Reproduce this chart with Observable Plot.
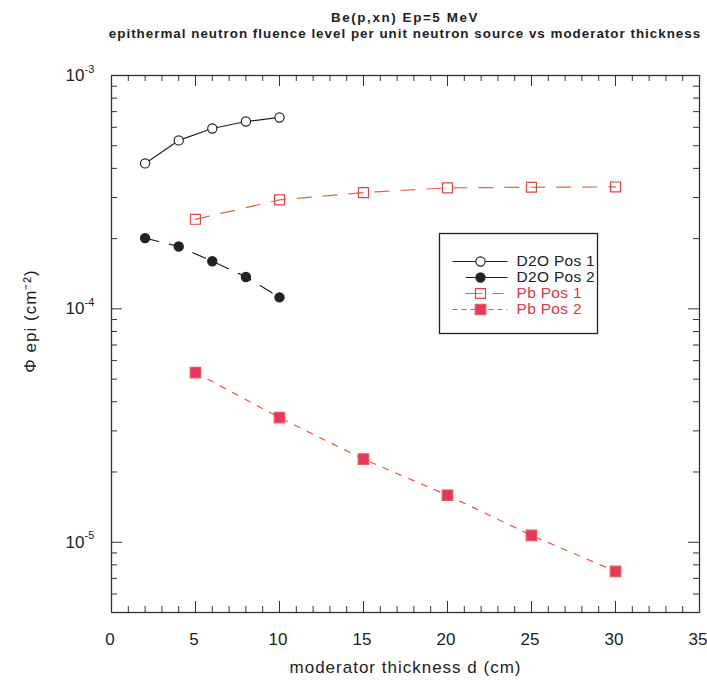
<!DOCTYPE html>
<html>
<head>
<meta charset="utf-8">
<script src="https://cdn.jsdelivr.net/npm/d3@7"></script>
<script src="https://cdn.jsdelivr.net/npm/@observablehq/plot@0.6"></script>
<style>
  html, body { margin: 0; padding: 0; background: #fff; }
  body { width: 707px; height: 681px; overflow: hidden; position: relative;
         font-family: "Liberation Sans", Arial, Helvetica, sans-serif; }
  #titles { position: absolute; left: 0; top: 10px; width: 810px; text-align: center;
            font-weight: bold; font-size: 13.4px; line-height: 16px; color: #222; white-space: nowrap; }
  #t1 { letter-spacing: 1.6px; }
  #t2 { letter-spacing: 1.0px; }
  #chart { position: absolute; left: 0; top: 48px; }
  #legend { position: absolute; left: 438px; top: 232px; }
</style>
</head>
<body>
<div id="titles"><div id="t1"></div><div id="t2"></div></div>
<div id="chart"></div>
<div id="legend"></div>
<script>
// ---- data ----
const titleText = "Be(p,xn) Ep=5 MeV";
const subtitleText = "epithermal neutron fluence level per unit neutron source vs moderator thickness";
const xLabel = "moderator thickness d (cm)";
const yLabel = "Φ epi (cm⁻²)";

const seriesNames = ["D2O Pos 1", "D2O Pos 2", "Pb Pos 1", "Pb Pos 2"];
const thicknessD2O = [2, 4, 6, 8, 10];
const thicknessPb = [5, 10, 15, 20, 25, 30];
const d2oPos1 = [4.20e-4, 5.27e-4, 5.93e-4, 6.35e-4, 6.61e-4];
const d2oPos2 = [2.01e-4, 1.85e-4, 1.60e-4, 1.37e-4, 1.12e-4];
const pbPos1 = [2.42e-4, 2.93e-4, 3.15e-4, 3.30e-4, 3.32e-4, 3.33e-4];
const pbPos2 = [5.33e-5, 3.42e-5, 2.27e-5, 1.59e-5, 1.07e-5, 7.50e-6];

const xTicks = [0, 5, 10, 15, 20, 25, 30, 35];
const yDecades = [1e-5, 1e-4, 1e-3];
const yExponents = ["-5", "-4", "-3"];
const xDomain = [0, 35];
const yDomain = [5e-6, 1e-3];

// ---- styles ----
const styles = {
  "D2O Pos 1": {line: "#222", dash: null, symbol: "circle", r: 4.6, fill: "white", stroke: "#222", text: "#222", legendDash: null},
  "D2O Pos 2": {line: "#222", dash: "14,11", symbol: "circle", r: 4.6, fill: "#222", stroke: "#222", text: "#222", legendDash: "0,13,60"},
  "Pb Pos 1": {line: "#e0663c", dash: "14,12", symbol: "square", r: 5.6, fill: "none", stroke: "#e04545", text: "#e5343f", legendDash: "0,13,17,10,11,100"},
  "Pb Pos 2": {line: "#dd5a3e", dash: "6,8", symbol: "square", r: 5.9, fill: "#e8375a", stroke: "#ec5560", text: "#e5343f", legendDash: "5,4"}
};

const rows = (xs, ys, name) => xs.map((x, i) => ({x, y: ys[i], series: name}));
const seriesData = {
  "D2O Pos 1": rows(thicknessD2O, d2oPos1, "D2O Pos 1"),
  "D2O Pos 2": rows(thicknessD2O, d2oPos2, "D2O Pos 2"),
  "Pb Pos 1": rows(thicknessPb, pbPos1, "Pb Pos 1"),
  "Pb Pos 2": rows(thicknessPb, pbPos2, "Pb Pos 2")
};

document.getElementById("t1").textContent = titleText;
document.getElementById("t2").textContent = subtitleText;

// ---- layout ----
const width = 707, height = 633;
const mL = 111, mR = 8, mT = 27, mB = 69;
const W = width - mL - mR, H = height - mT - mB;
const tickColor = "#333";

const xMinor = d3.range(1, 35).filter(v => v % 5 !== 0);
const yMinor = [];
for (const e of [-6, -5, -4]) for (let k = 2; k <= 9; k++) {
  const v = k * Math.pow(10, e);
  if (v > yDomain[0] * 1.001 && v < yDomain[1]) yMinor.push(v);
}
const yTickRows = yDecades.map((v, i) => ({v, exp: yExponents[i]}));

const marks = [
  // inward ticks on all four sides
  Plot.tickY(yMinor, {y: d => d, insetRight: W - 6, stroke: tickColor}),
  Plot.tickY(yDecades, {y: d => d, insetRight: W - 11, stroke: tickColor}),
  Plot.tickY(yMinor, {y: d => d, insetLeft: W - 6, stroke: tickColor}),
  Plot.tickY(yDecades, {y: d => d, insetLeft: W - 11, stroke: tickColor}),
  Plot.tickX(xMinor, {x: d => d, insetTop: H - 6, stroke: tickColor}),
  Plot.tickX(xTicks, {x: d => d, insetTop: H - 11, stroke: tickColor}),
  Plot.tickX(xMinor, {x: d => d, insetBottom: H - 6, stroke: tickColor}),
  Plot.tickX(xTicks, {x: d => d, insetBottom: H - 11, stroke: tickColor}),
  Plot.frame({stroke: "#333", strokeWidth: 1.3}),
  // tick labels
  Plot.text(xTicks, {x: d => d, text: d => String(d), frameAnchor: "bottom", lineAnchor: "top", textAnchor: "middle", dy: 20, dx: -1.5, fontSize: 17, fill: "#222"}),
  Plot.text(yTickRows, {y: "v", text: () => "10", frameAnchor: "left", textAnchor: "end", lineAnchor: "middle", dx: -27, fontSize: 17, fill: "#222"}),
  Plot.text(yTickRows, {y: "v", text: "exp", frameAnchor: "left", textAnchor: "start", lineAnchor: "middle", dx: -27, dy: -6.5, fontSize: 11, fill: "#222"}),
  // axis labels
  Plot.text([xLabel], {frameAnchor: "bottom", lineAnchor: "middle", textAnchor: "middle", dy: 55, fontSize: 17, fill: "#222"}),
  Plot.text([yLabel], {frameAnchor: "left", rotate: -90, textAnchor: "middle", lineAnchor: "middle", dx: -81, dy: -23, fontSize: 17, fill: "#222"})
];

for (const name of seriesNames) {
  const s = styles[name];
  marks.push(Plot.line(seriesData[name], {x: "x", y: "y", stroke: s.line, strokeWidth: 1.2, strokeDasharray: s.dash}));
}
for (const name of seriesNames) {
  const s = styles[name];
  marks.push(Plot.dot(seriesData[name], {x: "x", y: "y", symbol: s.symbol, r: s.r, fill: s.fill, stroke: s.stroke, strokeWidth: 1.2}));
}

const chart = Plot.plot({
  width, height,
  marginLeft: mL, marginRight: mR, marginTop: mT, marginBottom: mB,
  style: {fontFamily: '"Liberation Sans", Arial, sans-serif', fontSize: "17px", background: "white", overflow: "visible"},
  x: {domain: xDomain, axis: null},
  y: {type: "log", domain: yDomain, axis: null},
  marks
});
document.getElementById("chart").append(chart);

d3.select(chart).selectAll("text")
  .filter(function () { return this.textContent === xLabel || this.textContent === yLabel; })
  .style("letter-spacing", "1px");

// ---- legend (inside the plot area) ----
const legendMarks = [Plot.frame({stroke: "#222", strokeWidth: 1.3})];
for (const name of seriesNames) {
  const s = styles[name];
  legendMarks.push(Plot.link([name], {x1: 14, x2: 69, y1: d => d, y2: d => d, stroke: s.line, strokeWidth: 1.2, strokeDasharray: s.legendDash}));
  legendMarks.push(Plot.dot([name], {x: 42, y: d => d, symbol: s.symbol, r: s.r, fill: s.fill, stroke: s.stroke, strokeWidth: 1.2}));
  legendMarks.push(Plot.text([name], {x: 78, y: d => d, text: d => d, textAnchor: "start", fill: s.text, fontSize: 15.5}));
}
const legend = Plot.plot({
  width: 160, height: 102,
  marginLeft: 1, marginRight: 1, marginTop: 1, marginBottom: 1,
  style: {fontFamily: '"Liberation Sans", Arial, sans-serif', background: "white", overflow: "visible"},
  x: {type: "identity", axis: null},
  y: {type: "point", domain: seriesNames, range: [19.7, 86.3], axis: null},
  marks: legendMarks
});
document.getElementById("legend").append(legend);
d3.select(legend).selectAll("text").style("letter-spacing", "0.3px");
</script>
</body>
</html>
